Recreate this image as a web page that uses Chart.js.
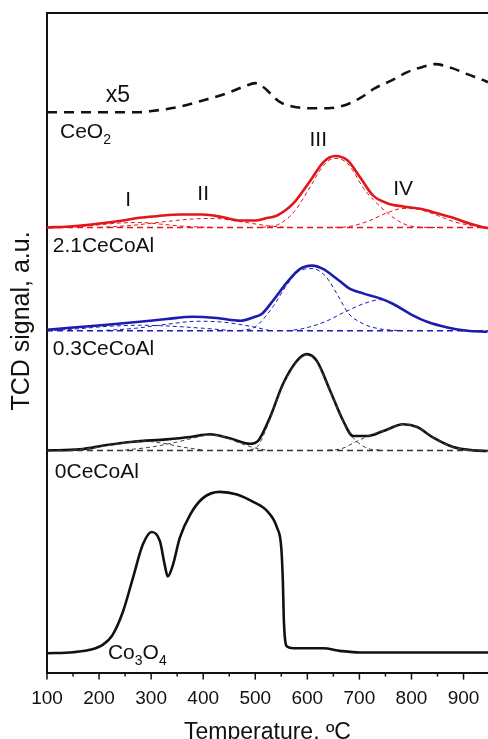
<!DOCTYPE html>
<html>
<head>
<meta charset="utf-8">
<script src="https://cdn.jsdelivr.net/npm/chart.js@4.4.1/dist/chart.umd.min.js"></script>
<style>
  html, body { margin: 0; padding: 0; background: #fff; overflow: hidden; }
  #wrap { position: absolute; left: 0; top: 0; width: 488px; height: 761px; }
</style>
</head>
<body>
<div id="wrap"><canvas id="chart"></canvas></div>
<script>
// x ticks (temperature, degC)
const xTicks = [100, 200, 300, 400, 500, 600, 700, 800, 900];

// CeO2 (x5), dashed
const ceT = [100, 201, 278, 298, 350, 394, 446, 480, 500, 513, 548, 580, 609, 640, 672, 701, 730, 763, 792, 820, 845, 878, 907, 938, 947];
const ceY = [559, 559, 559, 560, 564, 570, 578, 585, 588, 585, 569, 564, 563, 563, 566, 573, 583, 591, 599, 604, 607, 603, 597, 591, 589];

// 2.1CeCoAl (red)
const redT = [100, 150, 201, 246, 278, 311, 355, 399, 438, 471, 500, 519, 542, 573, 606, 631, 653, 677, 701, 726, 753, 784, 817, 849, 880, 913, 942, 947];
const redY = [444, 445.3, 448, 451, 453.7, 455.3, 457, 457, 454.3, 451, 451, 453, 456, 468, 491, 509.3, 515.3, 511, 494.3, 476, 468.3, 465, 462.7, 458.3, 453.7, 447.7, 443.7, 443.5];
const redBase = [444, 444];
const redIT = [100, 163, 240, 278, 317, 355, 420];
const redIY = [444, 445, 448.5, 449, 447.5, 445.5, 444];
const redIIT = [200, 260, 320, 380, 420, 470, 520, 560];
const redIIY = [444, 446, 449.5, 452.5, 453, 450, 446, 444];
const redIIIT = [513, 548, 575, 606, 631, 653, 677, 711, 753, 784, 811, 860];
const redIIIY = [444, 448, 460, 485, 506, 513, 508, 481, 459, 448, 444.5, 444];
const redIVT = [640, 680, 720, 750, 784, 815, 850, 880, 915, 947];
const redIVY = [444, 445, 451, 458, 463, 462, 456, 450, 446, 444];

// 0.3CeCoAl (blue)
const blueT = [100, 150, 215, 278, 330, 380, 426, 471, 496, 513, 534, 561, 586, 609, 630, 657, 682, 707, 740, 765, 798, 830, 869, 907, 946];
const blueY = [342, 344.3, 347, 350, 352.7, 355, 353.7, 351, 354.3, 358, 371, 389.3, 402.7, 406, 402.7, 392.7, 382.7, 378.3, 373.3, 367.7, 357.7, 350, 344.3, 341, 340];
const blueBase = [341, 341];
const blueIT = [100, 160, 220, 280, 340, 400, 460];
const blueIY = [341, 343, 345.5, 346.5, 345.5, 343.5, 341];
const blueIIT = [200, 270, 330, 390, 440, 490, 530];
const blueIIY = [341, 343.5, 347.5, 350.5, 349.5, 345.5, 341];
const blueIIIT = [470, 500, 534, 561, 586, 609, 634, 659, 678, 707, 738, 780];
const blueIIIY = [341, 345, 365, 387, 401, 403, 396, 376, 359, 348, 343, 341];
const blueIVT = [560, 590, 634, 673, 711, 740, 765, 798, 830, 869, 907, 946];
const blueIVY = [341, 343, 350, 360, 368.5, 372, 367.7, 357.7, 350, 344.3, 341.5, 340.5];

// 0CeCoAl (black)
const blkT = [100, 163, 215, 265, 330, 375, 413, 451, 490, 505, 528, 553, 580, 599, 618, 644, 669, 688, 715, 746, 784, 811, 842, 880, 919, 946];
const blkY = [221.7, 222.7, 227, 230.3, 232.7, 235, 237.7, 233.7, 228.3, 231, 254.3, 287.7, 311, 317.7, 311, 281, 251, 236, 236, 241, 247.7, 245, 234.3, 225, 221.7, 221];
const blkBase = [221.5, 221.5];
const blkIT = [150, 200, 250, 280, 320, 360, 400];
const blkIY = [222, 225, 229.5, 231, 229, 225, 222];
const blkIIT = [250, 300, 350, 390, 413, 440, 470, 500, 520];
const blkIIY = [222, 225, 230, 235, 237, 235, 229, 224, 222];
const blkIIIT = [490, 505, 528, 553, 580, 599, 618, 644, 669, 682, 701, 720, 740];
const blkIIIY = [222, 226, 252, 286, 310, 317, 310, 280, 250, 238, 228, 223, 222];
const blkIVT = [640, 663, 696, 727, 746, 784, 811, 842, 880, 919, 946];
const blkIVY = [222, 223, 231, 238, 241, 247.7, 245, 234.3, 225, 221.7, 221];

// Co3O4
const coT = [100, 150, 182, 207, 226, 246, 265, 284, 301, 317, 326, 332, 342, 355, 375, 400, 432, 465, 496, 523, 542, 550, 553, 555, 561, 573, 630, 663, 701, 817, 947];
const coY = [19.3, 20.3, 22.7, 27.7, 37.7, 61, 94.3, 127.7, 140.3, 131, 107.7, 96, 107.7, 134.3, 157.7, 174.3, 180.3, 177.7, 170.3, 161, 144.3, 124.3, 91, 51, 26, 24.3, 24.3, 21.7, 20, 20, 20];

const baseT = [100, 947];

const RED = '#e3151b';
const BLUE = '#1c1cb0';
const BLACK = '#111111';

const pts = (xs, ys) => xs.map((x, i) => ({ x: x, y: ys[i] }));

function mainLine(xs, ys, color, dash) {
    return {
        data: pts(xs, ys),
        borderColor: color,
        borderWidth: 2.6,
        borderDash: dash || [],
        pointRadius: 0,
        fill: false,
        cubicInterpolationMode: 'monotone'
    };
}

function compLine(xs, ys, color) {
    return {
        data: pts(xs, ys),
        borderColor: color,
        borderWidth: 1,
        borderDash: [4, 3],
        pointRadius: 0,
        fill: false,
        cubicInterpolationMode: 'monotone'
    };
}

function baseLine(ys, color) {
    return {
        data: pts(baseT, ys),
        borderColor: color,
        borderWidth: 1.5,
        borderDash: [6, 4],
        pointRadius: 0,
        fill: false
    };
}

const datasets = [
    mainLine(ceT, ceY, BLACK, [10, 7]),
    baseLine(redBase, RED),
    compLine(redIT, redIY, RED),
    compLine(redIIT, redIIY, RED),
    compLine(redIIIT, redIIIY, RED),
    compLine(redIVT, redIVY, RED),
    mainLine(redT, redY, RED),
    baseLine(blueBase, BLUE),
    compLine(blueIT, blueIY, BLUE),
    compLine(blueIIT, blueIIY, BLUE),
    compLine(blueIIIT, blueIIIY, BLUE),
    compLine(blueIVT, blueIVY, BLUE),
    mainLine(blueT, blueY, BLUE),
    baseLine(blkBase, '#333'),
    compLine(blkIT, blkIY, '#444'),
    compLine(blkIIT, blkIIY, '#444'),
    compLine(blkIIIT, blkIIIY, '#444'),
    compLine(blkIVT, blkIVY, '#444'),
    mainLine(blkT, blkY, BLACK),
    mainLine(coT, coY, BLACK)
];

// text labels: alternating normal / subscript parts, anchored at (temperature, signal)
const notes = [
    { parts: ['x5'], x: 236, y: 576, align: 'center' },
    { parts: ['CeO', '2'], x: 125, y: 539, align: 'left' },
    { parts: ['III'], x: 621, y: 531, align: 'center' },
    { parts: ['IV'], x: 784, y: 482, align: 'center' },
    { parts: ['I'], x: 256, y: 471, align: 'center' },
    { parts: ['II'], x: 400, y: 477, align: 'center' },
    { parts: ['2.1CeCoAl'], x: 111, y: 425, align: 'left' },
    { parts: ['0.3CeCoAl'], x: 111, y: 323, align: 'left' },
    { parts: ['0CeCoAl'], x: 115, y: 200, align: 'left' },
    { parts: ['Co', '3', 'O', '4'], x: 217, y: 19, align: 'left' }
];

const FONT = '"Liberation Sans", Arial, sans-serif';

const decor = {
    id: 'decor',
    afterDatasetsDraw(chart) {
        const c = chart.ctx;
        const xs = chart.scales.x;
        const ys = chart.scales.y;
        const area = chart.chartArea;
        c.save();
        // top frame line
        c.strokeStyle = BLACK;
        c.lineWidth = 2;
        c.beginPath();
        c.moveTo(area.left, area.top);
        c.lineTo(area.right, area.top);
        c.stroke();
        // tick marks, major and minor
        c.lineWidth = 1.5;
        for (let v = 100; v <= 947; v += 50) {
            const px = xs.getPixelForValue(v);
            const len = v % 100 === 0 ? 7 : 4;
            c.beginPath();
            c.moveTo(px, area.bottom);
            c.lineTo(px, area.bottom + len);
            c.stroke();
        }
        // y axis title
        c.fillStyle = BLACK;
        c.save();
        c.translate(22, 321);
        c.rotate(-Math.PI / 2);
        c.font = '25px ' + FONT;
        c.textAlign = 'center';
        c.textBaseline = 'middle';
        c.fillText('TCD signal, a.u.', 0, 0);
        c.restore();
        // labels
        c.textBaseline = 'middle';
        notes.forEach(n => {
            const big = (n.parts[0] === 'x5' ? 23 : 21) + 'px ' + FONT;
            const small = '14px ' + FONT;
            let w = 0;
            n.parts.forEach((p, i) => {
                c.font = i % 2 ? small : big;
                w += c.measureText(p).width;
            });
            let px = xs.getPixelForValue(n.x);
            if (n.align === 'center') px -= w / 2;
            const py = ys.getPixelForValue(n.y);
            n.parts.forEach((p, i) => {
                c.font = i % 2 ? small : big;
                c.fillText(p, px, i % 2 ? py + 8 : py);
                px += c.measureText(p).width;
            });
        });
        c.restore();
    }
};

document.addEventListener('DOMContentLoaded', function() {
    const ctx = document.getElementById('chart').getContext('2d');
    new Chart(ctx, {
        type: 'line',
        data: { datasets: datasets },
        options: {
            responsive: true,
            maintainAspectRatio: false,
            animation: false,
            layout: { padding: { top: 13, right: 0, bottom: 0, left: 39 } },
            plugins: {
                legend: { display: false },
                tooltip: { enabled: false }
            },
            scales: {
                x: {
                    type: 'linear',
                    min: 100,
                    max: 947,
                    afterBuildTicks: function(scale) {
                        scale.ticks = xTicks.map(v => ({ value: v }));
                    },
                    ticks: {
                        font: { family: FONT, size: 19 },
                        color: '#111',
                        padding: 8,
                        maxRotation: 0,
                        autoSkip: false
                    },
                    grid: {
                        display: true,
                        drawOnChartArea: false,
                        drawTicks: true,
                        tickLength: 7,
                        tickColor: 'rgba(0,0,0,0)'
                    },
                    border: { display: true, color: BLACK, width: 2 },
                    title: {
                        display: true,
                        text: 'Temperature, ºC',
                        font: { family: FONT, size: 23 },
                        color: '#111',
                        padding: { top: 0, bottom: 15 }
                    }
                },
                y: {
                    type: 'linear',
                    min: 0,
                    max: 658,
                    ticks: { display: false },
                    grid: { display: false },
                    border: { display: true, color: BLACK, width: 2 },
                    title: { display: false }
                }
            }
        },
        plugins: [decor]
    });
});
</script>
</body>
</html>
